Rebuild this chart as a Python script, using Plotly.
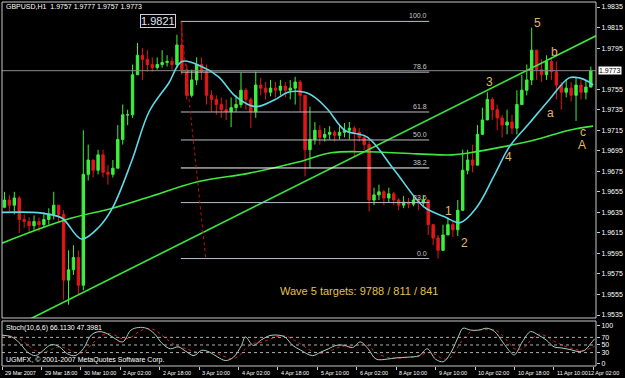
import plotly.graph_objects as go

# ---------------- data (prices in pips: 1 + v/10000), one candle = 2 hours ----------------
first_open_pips = 9640
close_pips = [
    9647, 9642, 9649, 9628, 9626, 9622, 9626, 9623, 9628, 9633,
    9642, 9633, 9569, 9579, 9591, 9564, 9672, 9686, 9676, 9691,
    9674, 9672, 9678, 9706, 9730, 9730, 9769, 9788, 9784, 9779,
    9776, 9779, 9781, 9782, 9779, 9798, 9774, 9749, 9764, 9779,
    9772, 9749, 9745, 9740, 9735, 9733, 9737, 9740, 9754, 9745,
    9733, 9759, 9756, 9752, 9756, 9754, 9758, 9754, 9756, 9762,
    9749, 9696, 9706, 9715, 9708, 9711, 9713, 9710, 9713, 9715,
    9717, 9713, 9708, 9701, 9647, 9652, 9655, 9649, 9653, 9647,
    9642, 9645, 9643, 9647, 9644, 9647, 9623, 9610, 9598, 9613,
    9623, 9618, 9637, 9676, 9686, 9681, 9711, 9725, 9745, 9735,
    9727, 9720, 9723, 9717, 9740, 9754, 9764, 9793, 9774, 9769,
    9782, 9772, 9759, 9752, 9756, 9749, 9759, 9752, 9757, 9773]
high_pips = [
    9655, 9652, 9655, 9651, 9633, 9630, 9632, 9630, 9635, 9639,
    9655, 9642, 9637, 9598, 9603, 9598, 9715, 9701, 9686, 9696,
    9696, 9681, 9686, 9720, 9740, 9735, 9779, 9800, 9795, 9793,
    9786, 9786, 9793, 9788, 9786, 9808, 9821, 9779, 9774, 9786,
    9786, 9779, 9754, 9749, 9747, 9745, 9747, 9749, 9771, 9756,
    9747, 9772, 9766, 9762, 9764, 9762, 9764, 9762, 9764, 9767,
    9764, 9749, 9738, 9723, 9720, 9717, 9719, 9715, 9719, 9722,
    9723, 9719, 9717, 9711, 9706, 9659, 9662, 9657, 9659, 9655,
    9649, 9651, 9649, 9652, 9650, 9652, 9647, 9623, 9613, 9623,
    9630, 9626, 9647, 9696, 9696, 9701, 9720, 9737, 9752, 9747,
    9740, 9730, 9735, 9730, 9754, 9769, 9779, 9815, 9788, 9784,
    9788, 9786, 9782, 9762, 9764, 9762, 9766, 9764, 9764, 9777]
low_pips = [
    9639, 9636, 9633, 9615, 9620, 9616, 9618, 9616, 9620, 9623,
    9628, 9626, 9550, 9545, 9574, 9555, 9559, 9666, 9669, 9672,
    9669, 9662, 9669, 9678, 9701, 9720, 9727, 9769, 9764, 9772,
    9772, 9774, 9776, 9777, 9774, 9776, 9769, 9745, 9747, 9759,
    9764, 9740, 9733, 9730, 9727, 9725, 9718, 9733, 9737, 9735,
    9717, 9727, 9749, 9745, 9748, 9747, 9749, 9747, 9745, 9740,
    9733, 9670, 9678, 9701, 9701, 9704, 9706, 9704, 9706, 9708,
    9706, 9689, 9704, 9696, 9636, 9642, 9647, 9642, 9645, 9642,
    9637, 9639, 9639, 9641, 9637, 9640, 9613, 9603, 9590, 9603,
    9613, 9611, 9612, 9637, 9672, 9674, 9681, 9711, 9725, 9725,
    9715, 9708, 9711, 9711, 9711, 9745, 9749, 9759, 9764, 9762,
    9764, 9764, 9745, 9735, 9747, 9743, 9724, 9745, 9745, 9757]

# fast (cyan) moving average, read at hours
ma_fast_h = [0, 12.5, 19.4, 24.6, 32.3, 39.5, 44.8, 52.8, 59.7, 67.7, 73, 81, 87.9, 94.8,
             102.8, 110.9, 116.1, 122.9, 127, 132.3, 139.1, 148.4, 159.3, 171.4, 179.4,
             185.9, 192.7, 199.6, 206, 214.1, 222.2, 230.2, 234.3, 238.3, 239.9]
ma_fast_pips = [9635, 9635, 9633, 9629, 9609, 9621, 9639, 9686, 9733, 9761, 9782, 9777, 9767,
                9748, 9738, 9745, 9752, 9752, 9747, 9735, 9715, 9708, 9676, 9640, 9631, 9625,
                9640, 9670, 9699, 9722, 9745, 9766, 9766, 9762, 9759]
# slow (green) moving average
ma_slow_h = [0, 26.2, 44.8, 59.7, 79.8, 100, 120.2, 133.5, 147.2, 168.5, 182.7, 189.9,
             203.6, 216.9, 230.2, 239.9]
ma_slow_pips = [9605, 9628, 9639, 9650, 9665, 9673, 9684, 9693, 9694, 9692, 9691, 9693,
                9699, 9706, 9715, 9719]
# trend line end points
trend_h = [11.3, 241.1]
trend_pips = [9531, 9807]

# Fibonacci retracement
fib_high, fib_low = 1.9821, 1.9590
fib_ratios = [1.0, 0.786, 0.618, 0.5, 0.382, 0.236, 0.0]
fib_names = ["100.0", "78.6", "61.8", "50.0", "38.2", "23.6", "0.0"]
fib_h = [72.6, 173.4]
fib_diag_h = [72.6, 82.7]

current_price = 1.9773

# stochastic (10,6,6)
stoch_h = [0, 4, 7.3, 10.4, 13.6, 16.8, 20, 23.3, 26.5, 29.7, 33, 36.2, 39.4, 42.6, 45.8, 49,
           52.3, 55.5, 58.6, 61.8, 65, 68.3, 71.5, 74.7, 77.9, 81.1, 84.3, 87.6, 90.8, 94,
           97.2, 98.8, 102, 105.2, 108.4, 111.6, 114.8, 118, 121.3, 126.1, 129.3, 132.5,
           135.8, 139, 142.2, 145.4, 148.6, 151.8, 156.6, 159.8, 164.6, 169.4, 172.6, 175.9,
           179.1, 182.3, 185.5, 187.1, 190.3, 193.5, 196.8, 200, 203.2, 206.4, 208, 211.2,
           214.5, 217.7, 220.9, 224.1, 227.3, 230.5, 233.8, 236.5, 239, 240.5]
stoch_main = [76, 71, 54, 31, 22, 36, 51, 45, 27, 22, 40, 76, 85, 80, 67, 58, 89, 96, 94, 80,
              54, 40, 45, 33, 22, 36, 31, 18, 9, 18, 49, 71, 49, 63, 74, 76, 71, 49, 36, 22,
              31, 40, 49, 49, 43, 58, 40, 13, 13, 16, 18, 22, 40, 13, 6, 31, 76, 94, 89, 89,
              94, 85, 58, 31, 24, 58, 85, 76, 63, 45, 42, 38, 33, 36, 54, 66]
stoch_signal = [74, 73, 65, 50, 35, 30, 38, 45, 40, 30, 30, 50, 70, 80, 76, 66, 70, 85, 93, 90,
                75, 58, 46, 40, 33, 30, 32, 27, 18, 14, 28, 40, 54, 57, 64, 72, 74, 65, 52, 33,
                28, 32, 42, 47, 47, 50, 48, 30, 17, 15, 17, 20, 30, 25, 13, 18, 50, 65, 85, 90,
                90, 90, 75, 50, 40, 40, 62, 78, 73, 60, 50, 42, 37, 36, 42, 47]

date_labels = ["29 Mar 2007", "29 Mar 18:00", "30 Mar 10:00", "2 Apr 02:00", "2 Apr 18:00",
               "3 Apr 10:00", "4 Apr 02:00", "4 Apr 18:00", "5 Apr 10:00", "6 Apr 02:00",
               "8 Apr 10:00", "9 Apr 10:00", "10 Apr 02:00", "10 Apr 18:00", "11 Apr 10:00",
               "12 Apr 02:00"]
price_ticks = [1.9535, 1.9555, 1.9575, 1.9595, 1.9615, 1.9635, 1.9655, 1.9675, 1.9695,
               1.9715, 1.9735, 1.9755, 1.9795, 1.9815, 1.9835]

wave_text = ["5", "b", "3", "a", "4", "1", "2", "c", "A"]
wave_h = [217.3, 224.2, 198.0, 222.6, 205.6, 181.1, 187.9, 235.9, 235.5]
wave_pips = [9819, 9791, 9762, 9732, 9689, 9636, 9605, 9713, 9701]

# ---------------- derived ----------------
p = lambda v: 1 + v / 10000.0
closes = [p(v) for v in close_pips]
opens = [p(first_open_pips)] + closes[:-1]
highs = [max(p(h), o, c) for h, o, c in zip(high_pips, opens, closes)]
lows = [min(p(l), o, c) for l, o, c in zip(low_pips, opens, closes)]
bar_h = [2 * i + 1 for i in range(len(closes))]

XR = [0, 241.1]
YR = [1.95321, 1.98399]
FONT = "Liberation Sans"

fig = go.Figure()
ann = []

# slow MA + trendline (green)
fig.add_trace(go.Scatter(x=ma_slow_h, y=[p(v) for v in ma_slow_pips], mode="lines",
                         line=dict(color="#3ee83e", width=1.6, shape="spline"),
                         xaxis="x", yaxis="y"))
fig.add_trace(go.Scatter(x=trend_h, y=[p(v) for v in trend_pips], mode="lines",
                         line=dict(color="#3ee83e", width=1.6), xaxis="x", yaxis="y"))

# current price line
fig.add_trace(go.Scatter(x=XR, y=[current_price, current_price], mode="lines",
                         line=dict(color="#8a8a8a", width=1), xaxis="x", yaxis="y"))

# fib lines
for r, name in zip(fib_ratios, fib_names):
    lv = fib_low + r * (fib_high - fib_low)
    col = "#ffffff" if name == "38.2" else "#b8c0c8"
    fig.add_trace(go.Scatter(x=fib_h, y=[lv, lv], mode="lines",
                             line=dict(color=col, width=1), xaxis="x", yaxis="y"))
    ann.append(dict(x=fib_h[1], y=lv, xref="x", yref="y", text=name, showarrow=False,
                    xanchor="right", yanchor="bottom",
                    font=dict(size=7, color="#c8c8c8", family=FONT)))
fig.add_trace(go.Scatter(x=fib_diag_h, y=[fib_high, fib_low], mode="lines",
                         line=dict(color="#c01010", width=1, dash="dot"), xaxis="x", yaxis="y"))

# candles
fig.add_trace(go.Candlestick(x=bar_h, open=opens, high=highs, low=lows, close=closes,
                             increasing=dict(line=dict(color="#3cf03c", width=1), fillcolor="#3cf03c"),
                             decreasing=dict(line=dict(color="#e01818", width=1), fillcolor="#e01818"),
                             whiskerwidth=0, xaxis="x", yaxis="y"))

# fast MA (cyan)
fig.add_trace(go.Scatter(x=ma_fast_h, y=[p(v) for v in ma_fast_pips], mode="lines",
                         line=dict(color="#5fd8e8", width=1.6, shape="spline"),
                         xaxis="x", yaxis="y"))

# stochastic
fig.add_trace(go.Scatter(x=stoch_h, y=stoch_signal, mode="lines",
                         line=dict(color="#d02020", width=1, dash="dot", shape="spline"),
                         xaxis="x2", yaxis="y2"))
fig.add_trace(go.Scatter(x=stoch_h, y=stoch_main, mode="lines",
                         line=dict(color="#a8d0c4", width=1, shape="spline"),
                         xaxis="x2", yaxis="y2"))

shapes = []
for lvl in [30, 50, 70]:
    shapes.append(dict(type="line", xref="x2 domain", yref="y2", x0=0, x1=1, y0=lvl, y1=lvl,
                       line=dict(color="#b0b0b0", width=1, dash="dot")))
shapes.append(dict(type="rect", xref="x domain", yref="y domain", x0=0, x1=1, y0=0, y1=1,
                   line=dict(color="#c8c8c8", width=1)))
shapes.append(dict(type="rect", xref="x2 domain", yref="y2 domain", x0=0, x1=1, y0=0, y1=1,
                   line=dict(color="#c8c8c8", width=1)))


def py(pix):
    return (366 - pix) / 364.0


ann.append(dict(xref="paper", yref="paper", x=0.004, y=py(7),
                text="GBPUSD,H1  1.9757 1.9777 1.9757 1.9773",
                showarrow=False, xanchor="left", yanchor="middle",
                font=dict(size=7, color="white", family=FONT)))
ann.append(dict(xref="paper", yref="paper", x=0.004, y=py(328), text="Stoch(10,6,6) 66.1130 47.3981",
                showarrow=False, xanchor="left", yanchor="middle",
                font=dict(size=7, color="white", family=FONT)))
ann.append(dict(xref="paper", yref="paper", x=0.004, y=py(360),
                text="UGMFX, © 2001-2007 MetaQuotes Software Corp.",
                showarrow=False, xanchor="left", yanchor="middle",
                font=dict(size=7, color="white", family=FONT)))
# high price box
ann.append(dict(x=63.5, y=fib_high, xref="x", yref="y", text="1.9821", showarrow=False,
                xanchor="center", yanchor="middle",
                font=dict(size=11, color="#e0e8f0", family=FONT), bordercolor="#c8d0d8",
                borderwidth=1, borderpad=0, bgcolor="black"))
# current price box on axis
ann.append(dict(xref="paper", yref="y", x=1.004, y=current_price, text="1.9773", showarrow=False,
                xanchor="left", yanchor="middle", font=dict(size=7, color="black", family=FONT),
                bgcolor="white", borderpad=0))
# wave labels
for t, h, v in zip(wave_text, wave_h, wave_pips):
    col = "#e8b070" if t in ("a", "b") else "#e0b868"
    ann.append(dict(x=h, y=p(v), xref="x", yref="y", text=t, showarrow=False,
                    xanchor="center", yanchor="middle",
                    font=dict(size=12, color=col, family=FONT)))
ann.append(dict(x=144.8, y=1.9558, xref="x", yref="y", text="Wave 5 targets: 9788 / 811 / 841",
                showarrow=False, xanchor="center", yanchor="middle",
                font=dict(size=11, color="#e0c050", family=FONT)))
# date labels (the last one is kept inside the picture)
for i, lab in enumerate(date_labels):
    last = i == len(date_labels) - 1
    ann.append(dict(x=(625 - 2) / 598.0 if last else 16 * i + 0.5, y=py(368),
                    xref="paper" if last else "x2", yref="paper", text=lab, showarrow=False,
                    xanchor="right" if last else "left", yanchor="top",
                    font=dict(size=5.5, color="white", family=FONT)))

axis_common = dict(showgrid=False, zeroline=False)
fig.update_layout(
    width=625, height=378, margin=dict(l=2, r=25, t=2, b=12),
    paper_bgcolor="black", plot_bgcolor="black", showlegend=False,
    xaxis=dict(domain=[0, 1], range=XR, anchor="y", showticklabels=False, ticks="",
               rangeslider=dict(visible=False), **axis_common),
    yaxis=dict(domain=[0.1319, 1], range=YR, side="right", anchor="x", tickvals=price_ticks,
               ticktext=[f"{v:.4f}" for v in price_ticks], ticks="outside", ticklen=3,
               tickcolor="#c8c8c8", tickfont=dict(size=7, color="white", family=FONT), **axis_common),
    xaxis2=dict(domain=[0, 1], range=XR, anchor="y2", matches="x", showticklabels=False,
                tickvals=[16 * i for i in range(len(date_labels))], ticks="outside", ticklen=3,
                tickcolor="#c8c8c8", rangeslider=dict(visible=False), **axis_common),
    yaxis2=dict(domain=[0, 0.1236], range=[-5.3, 113], side="right", anchor="x2",
                tickvals=[0, 30, 50, 70, 100], ticks="outside", ticklen=3, tickcolor="#c8c8c8",
                tickfont=dict(size=7, color="white", family=FONT), **axis_common),
    shapes=shapes, annotations=ann,
)

fig.write_html("out.html")
